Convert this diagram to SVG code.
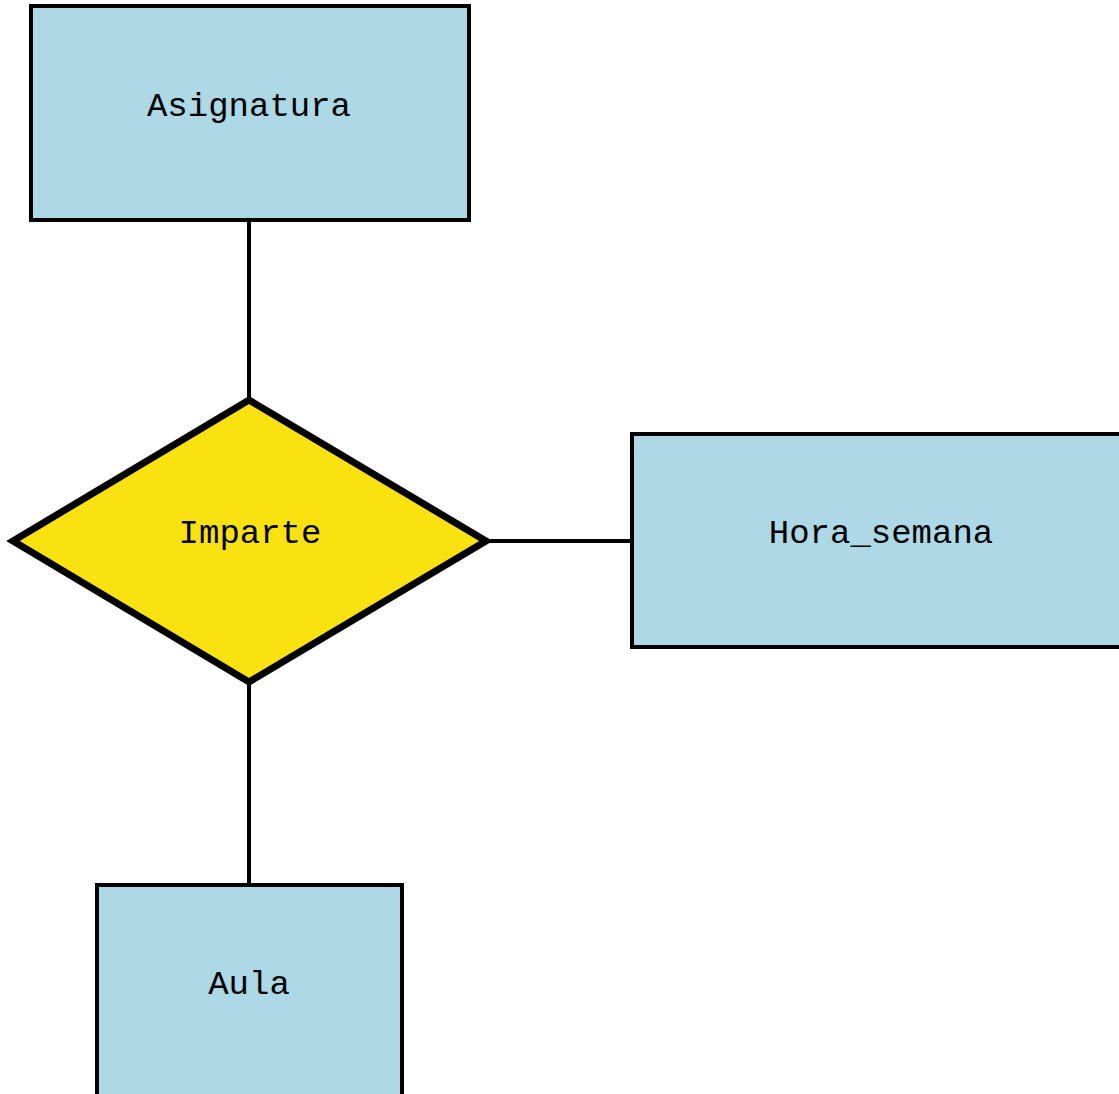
<svg xmlns="http://www.w3.org/2000/svg" width="1119" height="1094" viewBox="0 0 1119 1094">
  <style>
    .entity { fill: #add8e6; stroke: #000; stroke-width: 4; }
    .relation { fill: #f9e20f; stroke: #000; stroke-width: 7; stroke-linejoin: miter; }
    .label { font-family: "Liberation Mono", "DejaVu Sans Mono", monospace; font-size: 34px; fill: #000; text-anchor: middle; }
    .link { stroke: #000; stroke-width: 4; fill: none; }
  </style>
  <rect width="1119" height="1094" fill="#fff"/>
  <g id="connectors">
    <line class="link" x1="249" y1="220" x2="249" y2="400"/>
    <line class="link" x1="487" y1="541" x2="632" y2="541"/>
    <line class="link" x1="249" y1="682" x2="249" y2="885"/>
  </g>
  <g id="asignatura">
    <rect class="entity" x="31" y="6" width="438" height="214"/>
    <text class="label" x="249" y="116">Asignatura</text>
  </g>
  <g id="imparte">
    <polygon class="relation" points="249,400 486,541 249,682 13,541"/>
    <text class="label" x="250" y="543">Imparte</text>
  </g>
  <g id="hora_semana">
    <rect class="entity" x="632" y="434" width="500" height="213"/>
    <text class="label" x="881" y="543">Hora_semana</text>
  </g>
  <g id="aula">
    <rect class="entity" x="97" y="885" width="305" height="214"/>
    <text class="label" x="249" y="994">Aula</text>
  </g>
</svg>
